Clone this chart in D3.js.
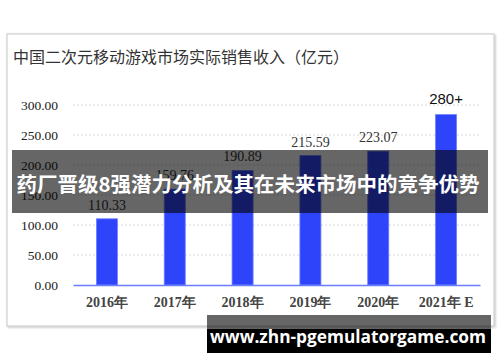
<!DOCTYPE html>
<html>
<head>
<meta charset="utf-8">
<script src="https://cdn.jsdelivr.net/npm/d3@7"></script>
<style>
  body { margin: 0; background: #fff; }
  svg { display: block; }
</style>
</head>
<body>
<div id="chart"></div>
<script>
// Data
const years = ["2016年", "2017年", "2018年", "2019年", "2020年", "2021年 E"];
const revenue = [110.33, 159.76, 190.89, 215.59, 223.07, 284];
const valueLabels = ["110.33", "159.76", "190.89", "215.59", "223.07", "280+"];
const yTicks = [0, 50, 100, 150, 200, 250, 300];

const title = "中国二次元移动游戏市场实际销售收入（亿元）";
const banner = "药厂晋级8强潜力分析及其在未来市场中的竞争优势";
const site = "www.zhn-pgemulatorgame.com";

const W = 500, H = 362;
const plot = { left: 73, right: 480, top: 105, bottom: 285 };

const svg = d3.select("#chart")
  .append("svg")
  .attr("width", W)
  .attr("height", H);

// shadow for the card
const defs = svg.append("defs");
const f = defs.append("filter").attr("id", "shadow")
  .attr("x", "-5%").attr("y", "-5%").attr("width", "110%").attr("height", "110%");
f.append("feDropShadow").attr("dx", 1).attr("dy", 1).attr("stdDeviation", 1)
  .attr("flood-color", "#000").attr("flood-opacity", 0.25);

svg.append("rect")
  .attr("x", 7).attr("y", 34)
  .attr("width", 487).attr("height", 292)
  .attr("fill", "#fff")
  .attr("stroke", "#c8c8c8")
  .attr("filter", "url(#shadow)");

svg.append("text")
  .attr("x", 13).attr("y", 63)
  .attr("font-family", "'Noto Sans CJK SC', sans-serif")
  .attr("font-size", 16)
  .attr("fill", "#333")
  .text(title);

const x = d3.scaleBand()
  .domain(years)
  .range([plot.left, plot.right])
  .paddingInner(0.69)
  .paddingOuter(0.345);

const y = d3.scaleLinear()
  .domain([0, 300])
  .range([plot.bottom, plot.top]);

// gridlines
svg.append("g")
  .selectAll("line")
  .data(yTicks.filter(d => d > 0))
  .join("line")
  .attr("x1", plot.left).attr("x2", plot.right)
  .attr("y1", d => y(d)).attr("y2", d => y(d))
  .attr("stroke", "#d8d8d8")
  .attr("stroke-dasharray", "2,2");

// y axis labels
const yAxis = d3.axisLeft(y)
  .tickValues(yTicks)
  .tickFormat(d3.format(".2f"))
  .tickSize(0)
  .tickPadding(0);

const gy = svg.append("g")
  .attr("transform", "translate(58,0)")
  .call(yAxis);
gy.select(".domain").remove();
gy.selectAll("text")
  .attr("font-family", "'Liberation Serif', serif")
  .attr("font-size", 13.5)
  .attr("fill", "#222");

// bars
svg.append("g")
  .selectAll("rect")
  .data(revenue)
  .join("rect")
  .attr("x", (d, i) => x(years[i]))
  .attr("y", d => y(d))
  .attr("width", x.bandwidth())
  .attr("height", d => y(0) - y(d))
  .attr("fill", "#2e44fb")
  .attr("stroke", "#6f80ff")
  .attr("stroke-width", 0.8);

// value labels
svg.append("g")
  .selectAll("text")
  .data(revenue)
  .join("text")
  .attr("x", (d, i) => x(years[i]) + x.bandwidth() / 2)
  .attr("y", (d, i) => y(d) - (i === 5 ? 11 : 9))
  .attr("text-anchor", "middle")
  .attr("font-family", (d, i) => i === 5 ? "'Liberation Sans', Arial, sans-serif" : "'Liberation Serif', serif")
  .attr("font-size", (d, i) => i === 5 ? 15 : 14)
  .attr("fill", (d, i) => i === 5 ? "#111" : "#333")
  .text((d, i) => valueLabels[i]);

// x axis
const xAxis = d3.axisBottom(x).tickSize(0).tickPadding(12);
const gx = svg.append("g")
  .attr("transform", "translate(0," + plot.bottom + ")")
  .call(xAxis);
gx.select(".domain")
  .attr("stroke", "#6a7dff")
  .attr("stroke-width", 1.5);
gx.selectAll("text")
  .attr("font-family", "'Liberation Serif', serif")
  .attr("font-size", 14)
  .attr("font-weight", "bold")
  .attr("fill", "#444");

// overlay banner
svg.append("rect")
  .attr("x", 12).attr("y", 150)
  .attr("width", 476).attr("height", 63)
  .attr("fill", "rgba(0,0,0,0.6)");
svg.append("text")
  .attr("x", 248).attr("y", 192)
  .attr("text-anchor", "middle")
  .attr("font-family", "'Noto Sans CJK SC', sans-serif")
  .attr("font-size", 20.5)
  .attr("font-weight", "bold")
  .attr("fill", "#fff")
  .text(banner);

// site banner
svg.append("rect")
  .attr("x", 207).attr("y", 315)
  .attr("width", 284).attr("height", 14)
  .attr("fill", "rgba(0,0,0,0.6)");
svg.append("rect")
  .attr("x", 207).attr("y", 329)
  .attr("width", 284).attr("height", 24)
  .attr("fill", "#000");
svg.append("text")
  .attr("x", 348).attr("y", 343)
  .attr("text-anchor", "middle")
  .attr("font-family", "'Open Sans', 'DejaVu Sans', sans-serif")
  .attr("font-size", 17.3)
  .attr("font-weight", "bold")
  .attr("fill", "#fff")
  .text(site);
</script>
</body>
</html>
